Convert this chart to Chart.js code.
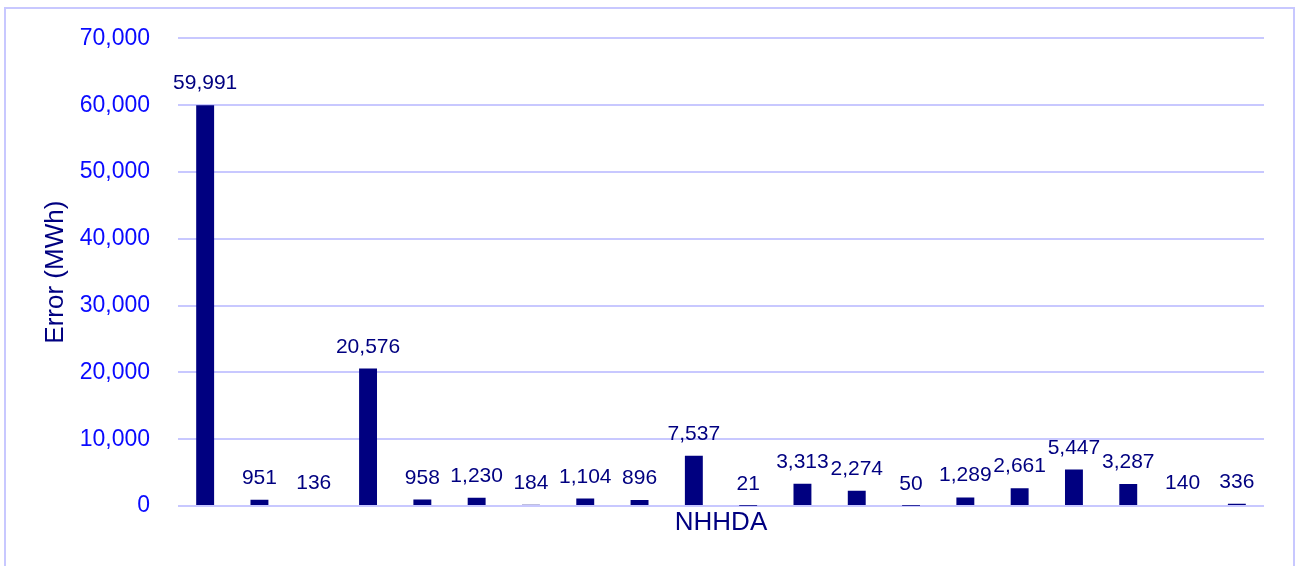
<!DOCTYPE html>
<html lang="en">
<head>
    <meta charset="UTF-8">
    <title>NHHDA Error</title>
    <script src="https://cdn.jsdelivr.net/npm/chart.js"></script>
    <style>
        body {
            margin: 0;
            background: #ffffff;
        }
        .frame {
            position: absolute;
            left: 4px;
            top: 7px;
            width: 1287px;
            height: 600px;
            border: 2px solid #c8c8ff;
        }
        .chart-box {
            position: absolute;
            left: 0;
            top: 0;
            width: 1296px;
            height: 566px;
        }
    </style>
</head>
<body>
    <div class="frame"></div>
    <div class="chart-box">
        <canvas id="errChart"></canvas>
    </div>

    <script>
        // values
        const categories = ['1', '2', '3', '4', '5', '6', '7', '8', '9', '10',
                            '11', '12', '13', '14', '15', '16', '17', '18', '19', '20'];
        const errorMWh = [59991, 951, 136, 20576, 958, 1230, 184, 1104, 896, 7537,
                          21, 3313, 2274, 50, 1289, 2661, 5447, 3287, 140, 336];
        const yTicks = [0, 10000, 20000, 30000, 40000, 50000, 60000, 70000];

        const navy = '#000080';
        const gridCol = '#c8c8ff';

        // simple value labels above the bars
        const barLabels = {
            id: 'barLabels',
            afterDatasetsDraw(chart) {
                const ctx = chart.ctx;
                const meta = chart.getDatasetMeta(0);
                ctx.save();
                ctx.font = '21px "Liberation Sans", Arial, sans-serif';
                ctx.fillStyle = navy;
                ctx.textAlign = 'center';
                ctx.textBaseline = 'alphabetic';
                meta.data.forEach((bar, i) => {
                    ctx.fillText(errorMWh[i].toLocaleString('en-US'), bar.x, bar.y - 16);
                });
                ctx.restore();
            }
        };

        new Chart(document.getElementById('errChart'), {
            type: 'bar',
            data: {
                labels: categories,
                datasets: [{
                    data: errorMWh,
                    backgroundColor: navy,
                    barPercentage: 0.33,
                    categoryPercentage: 1
                }]
            },
            options: {
                responsive: true,
                maintainAspectRatio: false,
                animation: false,
                layout: {
                    padding: { top: 30, right: 32, left: 0, bottom: 0 }
                },
                plugins: {
                    legend: { display: false },
                    tooltip: { enabled: false }
                },
                scales: {
                    x: {
                        grid: { display: false, drawTicks: false },
                        border: { display: false },
                        ticks: { display: false },
                        title: {
                            display: true,
                            text: 'NHHDA',
                            color: navy,
                            font: { family: '"Liberation Sans", Arial, sans-serif', size: 26 },
                            padding: { top: 4, bottom: 28 }
                        },
                        afterFit(s) { s.height = 60; }
                    },
                    y: {
                        min: 0,
                        max: 70000,
                        afterBuildTicks(s) { s.ticks = yTicks.map(v => ({ value: v })); },
                        grid: { color: gridCol, lineWidth: 2, drawTicks: false },
                        border: { display: false },
                        ticks: {
                            color: '#0a0aff',
                            padding: 28,
                            font: { family: '"Liberation Sans", Arial, sans-serif', size: 23, lineHeight: 0.9 },
                            callback: v => v.toLocaleString('en-US')
                        },
                        title: {
                            display: true,
                            text: 'Error (MWh)',
                            color: navy,
                            font: { family: '"Liberation Sans", Arial, sans-serif', size: 26 },
                            padding: { top: 40, bottom: 0 }
                        },
                        afterFit(s) { s.width = 178; }
                    }
                }
            },
            plugins: [barLabels]
        });
    </script>
</body>
</html>
